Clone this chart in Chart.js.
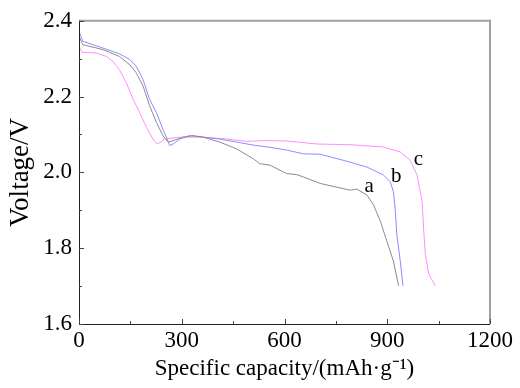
<!DOCTYPE html>
<html lang="en">
<head>
<meta charset="UTF-8">
<title>Voltage vs specific capacity</title>
<script src="https://cdn.jsdelivr.net/npm/chart.js"></script>
<style>
  body { margin: 0; background: #fff; }
  #wrap { width: 520px; height: 388px; }
</style>
</head>
<body>
<div id="wrap"><canvas id="myChart" width="520" height="388"></canvas></div>
<script>
// curve a (grey)
const capA = [0, 11, 70, 118, 148, 167, 187, 206, 226, 245, 260, 275, 304, 333, 362, 411, 460, 509, 528, 558, 606, 636, 655, 704, 792, 811, 841, 860, 880, 899, 918, 933];
const voltA = [2.359, 2.337, 2.324, 2.306, 2.284, 2.263, 2.228, 2.176, 2.132, 2.097, 2.080, 2.084, 2.093, 2.097, 2.093, 2.080, 2.062, 2.036, 2.023, 2.019, 1.997, 1.994, 1.988, 1.971, 1.953, 1.956, 1.940, 1.914, 1.871, 1.818, 1.766, 1.701];
// curve b (blue)
const capB = [0, 11, 70, 118, 148, 167, 187, 206, 226, 245, 255, 265, 275, 294, 323, 362, 411, 460, 509, 558, 606, 655, 704, 792, 841, 889, 909, 918, 923, 928, 938, 946];
const voltB = [2.372, 2.346, 2.328, 2.313, 2.298, 2.280, 2.245, 2.193, 2.158, 2.114, 2.093, 2.071, 2.075, 2.088, 2.097, 2.093, 2.088, 2.080, 2.072, 2.066, 2.059, 2.049, 2.048, 2.027, 2.014, 1.993, 1.975, 1.949, 1.905, 1.836, 1.766, 1.701];
// curve c (pink)
const capC = [0, 9, 50, 80, 99, 118, 138, 158, 177, 197, 216, 228, 240, 250, 294, 362, 431, 489, 548, 606, 694, 792, 889, 938, 967, 987, 1002, 1006, 1011, 1021, 1040];
const voltC = [2.333, 2.317, 2.315, 2.306, 2.293, 2.271, 2.237, 2.193, 2.158, 2.119, 2.088, 2.075, 2.081, 2.088, 2.093, 2.093, 2.088, 2.082, 2.084, 2.083, 2.075, 2.073, 2.067, 2.054, 2.032, 1.993, 1.923, 1.853, 1.784, 1.732, 1.701];

const seriesNames = ['a', 'b', 'c'];
const seriesColors = ['#8c8c8c', '#8c8cff', '#ff8cff'];
// where the letters sit, in data units
const labelCap = [847, 926, 991];
const labelVolt = [1.962, 1.988, 2.033];

const xMajor = [0, 300, 600, 900, 1200];
const yMajor = [1.6, 1.8, 2.0, 2.2, 2.4];

function toPoints(xs, ys) {
  return xs.map((x, i) => ({ x: x, y: ys[i] }));
}

const serif = "'Liberation Serif', 'Times New Roman', serif";

// frame, inward ticks and curve letters
const framePlugin = {
  id: 'frame',
  afterDatasetsDraw(chart) {
    const ctx = chart.ctx;
    const a = chart.chartArea;
    const xs = chart.scales.x, ys = chart.scales.y;
    ctx.save();
    // top + right in grey
    ctx.strokeStyle = '#a0a0a0';
    ctx.lineWidth = 2;
    ctx.beginPath();
    ctx.moveTo(a.left, a.top);
    ctx.lineTo(a.right, a.top);
    ctx.lineTo(a.right, a.bottom);
    ctx.stroke();
    // left + bottom dark
    ctx.strokeStyle = '#222';
    ctx.lineWidth = 1;
    ctx.beginPath();
    ctx.moveTo(a.left + 0.5, a.top);
    ctx.lineTo(a.left + 0.5, a.bottom + 0.5);
    ctx.lineTo(a.right, a.bottom + 0.5);
    ctx.stroke();
    // ticks
    ctx.strokeStyle = '#444';
    ctx.beginPath();
    for (let v = 0; v <= 1200; v += 150) {
      const px = Math.round(xs.getPixelForValue(v)) + 0.5;
      const len = xMajor.includes(v) ? 5 : 3;
      ctx.moveTo(px, a.bottom);
      ctx.lineTo(px, a.bottom - len);
    }
    for (let i = 0; i <= 8; i++) {
      const v = 1.6 + i * 0.1;
      const py = Math.round(ys.getPixelForValue(v)) + 0.5;
      const len = i % 2 === 0 ? 5 : 3;
      ctx.moveTo(a.left, py);
      ctx.lineTo(a.left + len, py);
    }
    ctx.stroke();
    // letters
    ctx.fillStyle = '#000';
    ctx.font = '21px ' + serif;
    ctx.textAlign = 'center';
    ctx.textBaseline = 'middle';
    seriesNames.forEach((n, i) => {
      ctx.fillText(n, xs.getPixelForValue(labelCap[i]), ys.getPixelForValue(labelVolt[i]));
    });
    ctx.restore();
  }
};

const ctx = document.getElementById('myChart').getContext('2d');
const myChart = new Chart(ctx, {
  type: 'line',
  data: {
    datasets: [
      { label: 'a', data: toPoints(capA, voltA), borderColor: seriesColors[0] },
      { label: 'b', data: toPoints(capB, voltB), borderColor: seriesColors[1] },
      { label: 'c', data: toPoints(capC, voltC), borderColor: seriesColors[2] }
    ].map(d => Object.assign(d, { borderWidth: 1, pointRadius: 0, tension: 0, fill: false }))
  },
  options: {
    responsive: false,
    animation: false,
    layout: { padding: { top: 18, right: 30, left: 0, bottom: 0 } },
    plugins: { legend: { display: false }, tooltip: { enabled: false } },
    scales: {
      x: {
        type: 'linear',
        min: 0,
        max: 1200,
        afterBuildTicks: s => { s.ticks = xMajor.map(v => ({ value: v })); },
        afterFit: s => { s.height = 64; },
        ticks: {
          color: '#000',
          font: { family: serif, size: 23 },
          padding: 3,
          maxRotation: 0,
          callback: v => String(v)
        },
        grid: { drawOnChartArea: false, drawTicks: false },
        border: { display: false },
        title: {
          display: true,
          text: 'Specific capacity/(mAh·g⁻¹)',
          color: '#000',
          font: { family: serif, size: 23 },
          padding: { top: 0, bottom: 5 }
        }
      },
      y: {
        min: 1.6,
        max: 2.4,
        afterBuildTicks: s => { s.ticks = yMajor.map(v => ({ value: v })); },
        afterFit: s => { s.width = 79; },
        ticks: {
          color: '#000',
          font: { family: serif, size: 23 },
          padding: 7,
          callback: v => v.toFixed(1)
        },
        grid: { drawOnChartArea: false, drawTicks: false },
        border: { display: false },
        title: {
          display: true,
          text: 'Voltage/V',
          color: '#000',
          font: { family: serif, size: 27 },
          padding: { top: 5, bottom: 0 }
        }
      }
    }
  },
  plugins: [framePlugin]
});
</script>
</body>
</html>
